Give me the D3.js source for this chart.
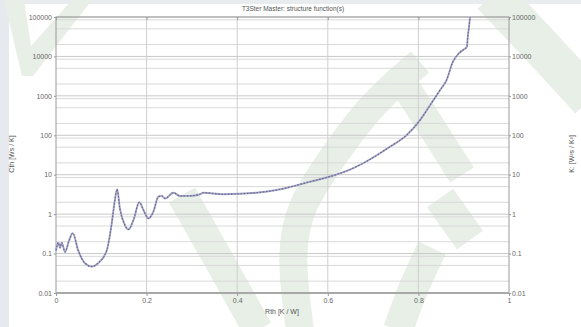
<!DOCTYPE html>
<html><head><meta charset="utf-8">
<script src="https://cdn.jsdelivr.net/npm/d3@7"></script>
<style>html,body{margin:0;padding:0;background:#fff;}svg{display:block;}</style>
</head><body>
<svg id="c" width="581" height="327"></svg>
<script>
// ---- data ----
const rth = [0, 0.005, 0.009, 0.0125, 0.02, 0.028, 0.037, 0.049, 0.064, 0.079, 0.093, 0.112, 0.123, 0.130, 0.135, 0.141, 0.152, 0.160, 0.171, 0.184, 0.193, 0.204, 0.215, 0.226, 0.233, 0.241, 0.259, 0.274, 0.289, 0.296, 0.318, 0.325, 0.369, 0.443, 0.487, 0.517, 0.561, 0.605, 0.649, 0.678, 0.737, 0.774, 0.804, 0.826, 0.848, 0.862, 0.876, 0.890, 0.900, 0.907, 0.909, 0.912, 0.914];
const cth = [0.12, 0.19, 0.14, 0.19, 0.11, 0.2, 0.33, 0.12, 0.057, 0.047, 0.057, 0.12, 0.58, 2.29, 4.27, 1.4, 0.53, 0.41, 0.71, 2.0, 1.27, 0.78, 1.16, 2.77, 2.9, 2.5, 3.5, 2.88, 2.9, 2.9, 3.2, 3.5, 3.2, 3.5, 4.1, 4.9, 6.65, 9.0, 13.5, 19.5, 51, 101, 246, 586, 1410, 2500, 7250, 12200, 15000, 17400, 31000, 60000, 100000];
const xTicks = [0, 0.2, 0.4, 0.6, 0.8, 1];
const xTickLabels = ["0", "0.2", "0.4", "0.6", "0.8", "1"];
const yTicks = [0.01, 0.1, 1, 10, 100, 1000, 10000, 100000];
const yTickLabels = ["0.01", "0.1", "1", "10", "100", "1000", "10000", "100000"];
const minorMult = [2, 5, 8.5];
const title = "T3Ster Master: structure function(s)";
const xTitle = "Rth [K / W]";
const yTitle = "Cth [Ws / K]";
const y2Title = "K: [W²s / K²]";

const svg = d3.select("#c");
const W = 581, H = 327;
const L = 56, R = 509, T = 17, B = 293;
const x = d3.scaleLinear().domain([0, 1]).range([L, R]);
const y = d3.scaleLog().domain([0.01, 100000]).range([B, T]);
const font = "'Liberation Sans', Arial, sans-serif";

// background strips
svg.append("rect").attr("width", W).attr("height", H).attr("fill", "#fff");
svg.append("rect").attr("x", 0).attr("y", 0).attr("width", W).attr("height", 4).attr("fill", "#e9ecef");
svg.append("rect").attr("x", 0).attr("y", 0).attr("width", 9).attr("height", H).attr("fill", "#e6eaef");

// watermark (faint)
const wmc = "#e7efe7";
const wm = svg.append("g").attr("fill", "none").attr("stroke", wmc).attr("stroke-linecap", "butt");
const ln = d3.line().curve(d3.curveBasis);
wm.append("path").attr("d", "M4,0 L24,0 L31,46 L72,0 L92,0 L33,76 L22,76 Z").attr("fill", wmc).attr("stroke", "none");
wm.append("path").attr("d", ln([[420,62],[370,105],[332,158],[300,205],[290,255],[300,330]])).attr("stroke-width", 28);
wm.append("path").attr("d", ln([[182,195],[220,262],[258,330]])).attr("stroke-width", 30);
wm.append("path").attr("d", ln([[400,78],[440,140],[462,175]])).attr("stroke-width", 28);
wm.append("path").attr("d", ln([[440,198],[470,240]])).attr("stroke-width", 32);
wm.append("path").attr("d", ln([[492,-5],[540,45],[590,100]])).attr("stroke-width", 40);
wm.append("path").attr("d", ln([[432,248],[412,290],[398,330]])).attr("stroke-width", 30);

// grid
const g = svg.append("g");
const minorVals = [];
yTicks.slice(0, -1).forEach(d => minorMult.forEach(m => minorVals.push(d * m)));
g.selectAll(".mn").data(minorVals).enter().append("line")
  .attr("x1", L).attr("x2", R).attr("y1", d => y(d)).attr("y2", d => y(d))
  .attr("stroke", "#d9d9d9").attr("stroke-width", 1);
g.selectAll(".mj").data(yTicks).enter().append("line")
  .attr("x1", L).attr("x2", R).attr("y1", d => y(d)).attr("y2", d => y(d))
  .attr("stroke", "#c9c9c9").attr("stroke-width", 1);
g.selectAll(".vx").data(xTicks.slice(1, -1)).enter().append("line")
  .attr("x1", d => x(d)).attr("x2", d => x(d)).attr("y1", T).attr("y2", B)
  .attr("stroke", "#cfcfcf").attr("stroke-width", 1);

// frame
svg.append("rect").attr("x", L).attr("y", T).attr("width", R - L).attr("height", B - T)
  .attr("fill", "none").attr("stroke", "#9a9a9a").attr("stroke-width", 1);
svg.append("line").attr("x1", L).attr("x2", R).attr("y1", B).attr("y2", B).attr("stroke", "#a8a8a8").attr("stroke-width", 2);

// axes
const tickStyle = s => { s.select(".domain").remove(); s.selectAll("line").attr("stroke", "#999"); s.selectAll("text").attr("fill", "#666").attr("font-family", font).attr("font-size", 7); };
svg.append("g").attr("transform", `translate(0,${B})`)
  .call(d3.axisBottom(x).tickValues(xTicks).tickFormat((d, i) => xTickLabels[i]).tickSize(3).tickPadding(2))
  .call(tickStyle);
svg.append("g").attr("transform", `translate(0,${T})`)
  .call(d3.axisTop(x).tickValues(xTicks).tickFormat("").tickSize(-3))
  .call(tickStyle);
svg.append("g").attr("transform", `translate(${L},0)`)
  .call(d3.axisLeft(y).tickValues(yTicks).tickFormat((d, i) => yTickLabels[i]).tickSize(2).tickPadding(2))
  .call(tickStyle);
svg.append("g").attr("transform", `translate(${R},0)`)
  .call(d3.axisRight(y).tickValues(yTicks).tickFormat((d, i) => yTickLabels[i]).tickSize(2).tickPadding(1))
  .call(tickStyle);

// curve
const pts = rth.map((d, i) => [d, cth[i]]);
const line = d3.line().x(d => x(d[0])).y(d => y(d[1])).curve(d3.curveMonotoneX);
svg.append("path").attr("d", line(pts)).attr("fill", "none").attr("stroke", "#a4a4c6").attr("stroke-width", 1.9);
svg.append("path").attr("d", line(pts)).attr("fill", "none").attr("stroke", "#66668f").attr("stroke-width", 1.1).attr("stroke-dasharray", "1.6,1.6");

// titles
svg.append("text").attr("x", 293).attr("y", 11).attr("text-anchor", "middle")
  .attr("font-family", font).attr("font-size", 6.5).attr("fill", "#555").text(title);
svg.append("text").attr("x", 282).attr("y", 314).attr("text-anchor", "middle")
  .attr("font-family", font).attr("font-size", 7).attr("fill", "#555").text(xTitle);
svg.append("text").attr("transform", "translate(14,154) rotate(-90)").attr("text-anchor", "middle")
  .attr("font-family", font).attr("font-size", 7).attr("fill", "#555").text(yTitle);
svg.append("text").attr("transform", "translate(574,154) rotate(-90)").attr("text-anchor", "middle")
  .attr("font-family", font).attr("font-size", 7).attr("fill", "#555").text(y2Title);
</script>
</body></html>
